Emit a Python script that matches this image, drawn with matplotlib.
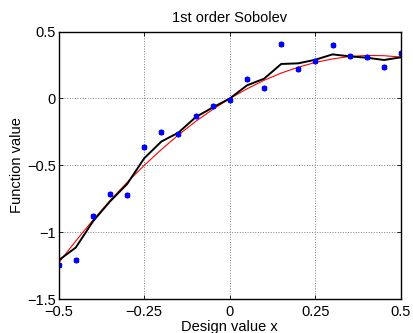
import matplotlib
matplotlib.use("Agg")
import matplotlib.pyplot as plt

plt.rcParams['font.family'] = ['Liberation Sans', 'DejaVu Sans']

x_pts = [-0.5, -0.45, -0.4, -0.35, -0.3, -0.25, -0.2, -0.15, -0.1, -0.05, 0.0,
         0.05, 0.1, 0.15, 0.2, 0.25, 0.3, 0.35, 0.4, 0.45, 0.5]
y_samples = [-1.248, -1.208, -0.878, -0.715, -0.725, -0.365, -0.25, -0.265, -0.132, -0.057, -0.015,
             0.148, 0.078, 0.41, 0.22, 0.278, 0.403, 0.318, 0.31, 0.235, 0.338]
y_true = [-1.23, -1.066, -0.910, -0.764, -0.627, -0.50, -0.382, -0.272, -0.172, -0.082, 0.0,
          0.072, 0.136, 0.19, 0.234, 0.27, 0.296, 0.314, 0.322, 0.32, 0.31]
y_sobolev = [-1.21, -1.115, -0.92, -0.77, -0.64, -0.447, -0.322, -0.255, -0.14, -0.067, 0.0,
             0.098, 0.148, 0.258, 0.263, 0.29, 0.33, 0.315, 0.305, 0.288, 0.308]

xticks = [-0.5, -0.25, 0, 0.25, 0.5]
xtick_labels = ['\u22120.5', '\u22120.25', '0', '0.25', '0.5']
yticks = [-1.5, -1, -0.5, 0, 0.5]
ytick_labels = ['\u22121.5', '\u22121', '\u22120.5', '0', '0.5']

fs = 10.5
fig = plt.figure(figsize=(4.13, 3.33), dpi=100)
ax = fig.add_axes([0.142, 0.102, 0.829, 0.803])

ax.plot(x_pts, y_true, color='red', lw=0.8)
ax.plot(x_pts, y_sobolev, color='black', lw=1.4)
ax.plot(x_pts, y_samples, linestyle='none', marker=(6, 2, 0), color='blue',
        markersize=4, markeredgewidth=1.5)

ax.set_xlim(-0.5, 0.5)
ax.set_ylim(-1.5, 0.5)
ax.set_xticks(xticks)
ax.set_xticklabels(xtick_labels)
ax.set_yticks(yticks)
ax.set_yticklabels(ytick_labels)
ax.tick_params(direction='in', top=True, right=True, labelsize=fs, length=3, width=0.6)
ax.tick_params(axis='x', pad=4.5)
ax.tick_params(axis='y', pad=2)
ax.grid(True, linestyle=':', color='#808080', lw=0.7)
for s in ax.spines.values():
    s.set_linewidth(1.0)

ax.set_title('1st order Sobolev', fontsize=fs, pad=7)
ax.set_xlabel('Design value x', fontsize=fs, labelpad=0.5)
ax.set_ylabel('Function value', fontsize=fs, labelpad=2)

fig.savefig('out.png', dpi=100)
